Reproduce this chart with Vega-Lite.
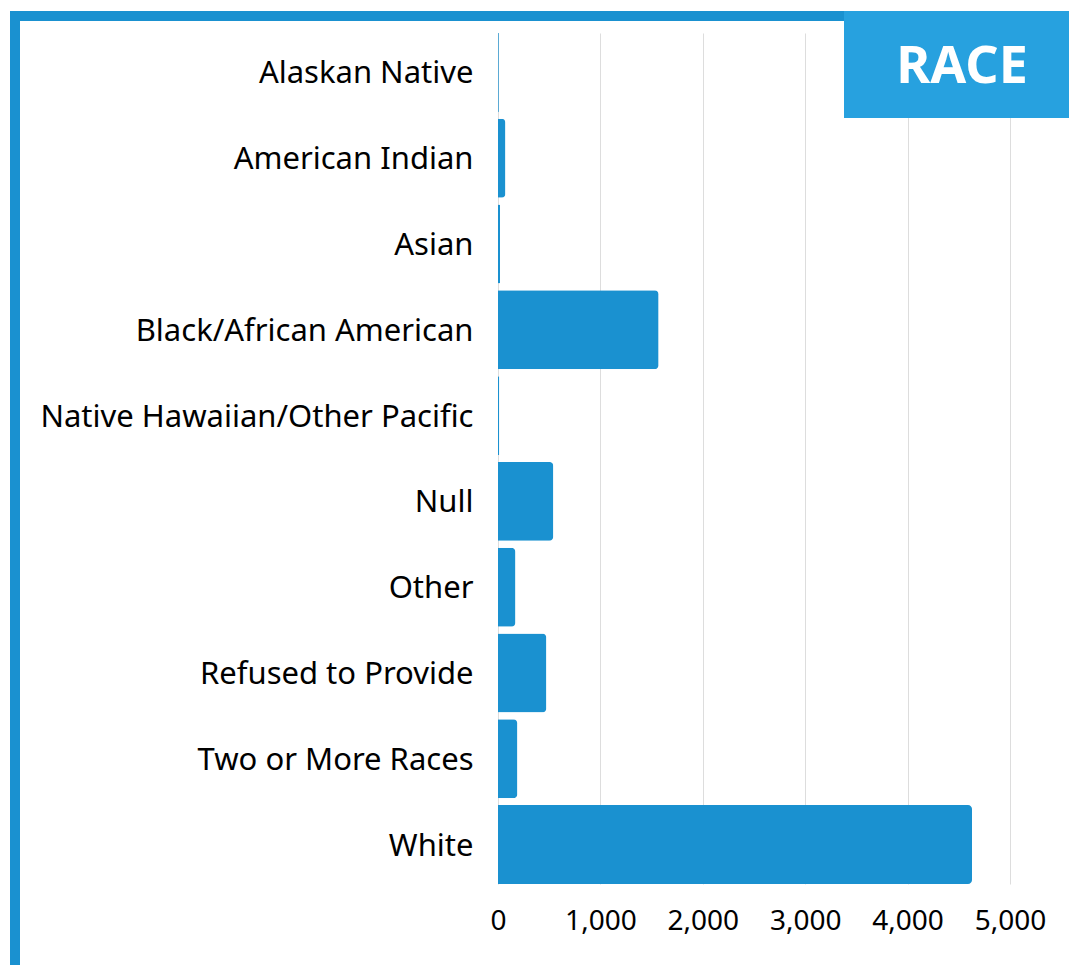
{
  "$schema": "https://vega.github.io/schema/vega-lite/v6.json",
  "width": 512,
  "height": 851,
  "autosize": "none",
  "padding": {"left": 498, "top": 33, "right": 59, "bottom": 81},
  "background": "white",
  "data": {
    "values": [
      {"race": "Alaskan Native", "count": 8},
      {"race": "American Indian", "count": 72},
      {"race": "Asian", "count": 20},
      {"race": "Black/African American", "count": 1568},
      {"race": "Native Hawaiian/Other Pacific", "count": 12},
      {"race": "Null", "count": 540},
      {"race": "Other", "count": 170},
      {"race": "Refused to Provide", "count": 472},
      {"race": "Two or More Races", "count": 189},
      {"race": "White", "count": 4629}
    ]
  },
  "layer": [
    {
      "mark": {"type": "bar", "color": "#1a91d0", "cornerRadiusEnd": 4},
      "encoding": {
        "y": {
          "field": "race",
          "type": "nominal",
          "sort": "ascending",
          "scale": {"paddingInner": 0.08, "paddingOuter": 0},
          "axis": {
            "title": null,
            "domain": false,
            "ticks": false,
            "grid": false,
            "labelFont": "Noto Sans",
            "labelFontSize": 31,
            "labelColor": "#000000",
            "labelPadding": 25,
            "labelOffset": 2,
            "labelLimit": 600,
            "labelOverlap": false
          }
        },
        "x": {
          "field": "count",
          "type": "quantitative",
          "scale": {"domain": [0, 5000], "nice": false},
          "axis": {
            "title": null,
            "domain": false,
            "ticks": false,
            "grid": true,
            "gridColor": "#dddddd",
            "gridWidth": 1,
            "values": [0, 1000, 2000, 3000, 4000, 5000],
            "format": ",.0f",
            "labelFont": "Noto Sans",
            "labelFontSize": 28,
            "labelColor": "#000000",
            "labelPadding": 23,
            "labelOverlap": false,
            "labelFlush": false,
            "labelBound": false
          }
        }
      }
    },
    {
      "data": {"values": [{"part": "left band"}]},
      "mark": {"type": "rect", "color": "#1a91d0", "x": -488, "x2": -478, "y": -22, "y2": 932},
      "encoding": {}
    },
    {
      "data": {"values": [{"part": "top band"}]},
      "mark": {"type": "rect", "color": "#1a91d0", "x": -488, "x2": 571, "y": -22, "y2": -12},
      "encoding": {}
    },
    {
      "data": {"values": [{"part": "title box"}]},
      "mark": {"type": "rect", "color": "#27a1df", "x": 346, "x2": 571, "y": -22, "y2": 85},
      "encoding": {}
    },
    {
      "data": {"values": [{"label": "RACE"}]},
      "mark": {
        "type": "text",
        "x": 464,
        "y": 50,
        "align": "center",
        "baseline": "alphabetic",
        "font": "Noto Sans",
        "fontSize": 52,
        "fontWeight": "bold",
        "color": "#ffffff"
      },
      "encoding": {"text": {"field": "label", "type": "nominal"}}
    }
  ],
  "config": {
    "view": {"stroke": null}
  }
}
